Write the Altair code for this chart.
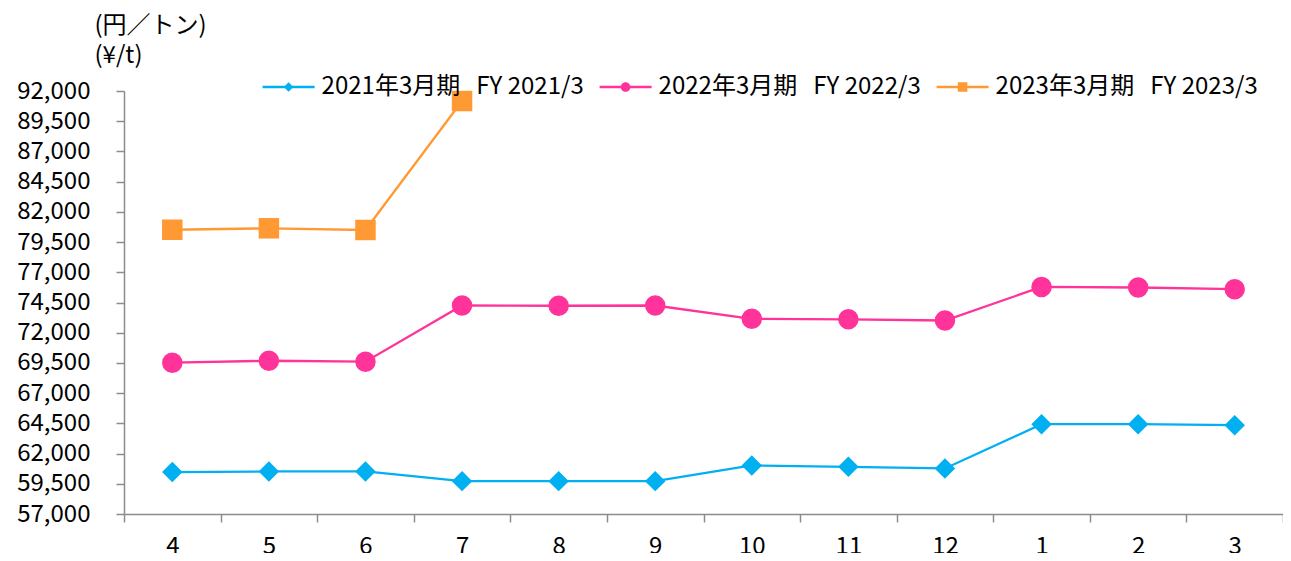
import altair as alt
import pandas as pd

months = ["4", "5", "6", "7", "8", "9", "10", "11", "12", "1", "2", "3"]
series_names = ["2021年3月期\u00a0\u00a0\u00a0FY 2021/3", "2022年3月期\u00a0\u00a0\u00a0FY 2022/3", "2023年3月期\u00a0\u00a0\u00a0FY 2023/3"]
fy2021 = [60470, 60520, 60520, 59720, 59720, 59720, 61020, 60900, 60770, 64430, 64430, 64350]
fy2022 = [69520, 69680, 69600, 74250, 74230, 74250, 73150, 73110, 73010, 75790, 75740, 75600]
fy2023 = [80520, 80640, 80500, 91170, None, None, None, None, None, None, None, None]
y_ticks = list(range(57000, 92001, 2500))

colors = ["#00B0F0", "#FF3399", "#FF9933"]
FONT = "Noto Sans CJK JP"

rows = []
for name, vals in zip(series_names, [fy2021, fy2022, fy2023]):
    for m, v in zip(months, vals):
        rows.append({"month": m, "series": name, "value": v})
df = pd.DataFrame(rows)

t = 0.044
m = 0.185
bar = f"M-1,-{t}H1V{t}H-1Z "
legend_paths = [
    bar + f"M0,-{m}L{m},0L0,{m}L-{m},0Z",
    bar + f"M-{m},0A{m},{m} 0 1,1 {m},0A{m},{m} 0 1,1 -{m},0Z",
    bar + f"M-{m},-{m}H{m}V{m}H-{m}Z",
]

color_scale = alt.Scale(domain=series_names, range=colors)

x_enc = alt.X(
    "month:N",
    sort=months,
    scale=alt.Scale(paddingInner=0, paddingOuter=0),
    axis=alt.Axis(
        title=None, labelAngle=0, tickBand="extent", tickSize=8, tickWidth=1.5,
        tickColor="#8C8C8C", domainColor="#8C8C8C", domainWidth=1.5,
        labelPadding=12, labelFontSize=24, labelFont=FONT, labelColor="#000000",
        grid=False,
    ),
)
y_enc = alt.Y(
    "value:Q",
    scale=alt.Scale(domain=[57000, 92000], nice=False, zero=False),
    axis=alt.Axis(
        values=y_ticks, format=",d", tickSize=8, tickWidth=1.5, tickColor="#8C8C8C",
        domainColor="#8C8C8C", domainWidth=1.5, labelPadding=26, labelFontSize=24,
        labelFont=FONT, labelColor="#000000", grid=False,
        title=["(円／トン)", "(¥/t)"], titleAngle=0, titleAlign="left",
        titleBaseline="alphabetic", titleX=-30, titleY=-59, titleFontSize=24,
        titleFont=FONT, titleFontWeight="normal", titleColor="#000000", titleLineHeight=30,
    ),
)

legend = alt.Legend(
    title=None, orient="none", direction="horizontal", legendX=138.6, legendY=-30,
    symbolSize=2704, symbolStrokeWidth=0, symbolOpacity=1, labelFont=FONT,
    labelFontSize=24, labelColor="#000000", labelOffset=7, columnPadding=15, padding=0,
    labelLimit=400,
)

base = alt.Chart(df)

legend_layer = base.transform_filter("false").mark_point(filled=True, opacity=1).encode(
    color=alt.Color("series:N", scale=color_scale, legend=legend),
    shape=alt.Shape("series:N", scale=alt.Scale(domain=series_names, range=legend_paths), legend=legend),
)

lines = base.transform_filter("isValid(datum.value)").mark_line(strokeWidth=2.3).encode(
    x=x_enc, y=y_enc,
    color=alt.Color("series:N", scale=color_scale, legend=None),
)

points = base.transform_filter("isValid(datum.value)").transform_calculate(
    mk=f"datum.series === '{series_names[0]}' ? 'diamond' : datum.series === '{series_names[1]}' ? 'circle' : 'square'"
).mark_point(filled=True, opacity=1, size=420, strokeWidth=0).encode(
    x=x_enc, y=y_enc,
    color=alt.Color("series:N", scale=color_scale, legend=None),
    shape=alt.Shape("mk:N", scale=None, legend=None),
)

chart = alt.layer(legend_layer, lines, points).properties(
    width=1159, height=423,
    autosize="none",
    padding={"left": 116, "top": 83, "right": 0, "bottom": 39},
    background="#FFFFFF",
).configure_view(stroke=None)

chart.save("out.html", embed_options={"renderer": "svg", "actions": False})
